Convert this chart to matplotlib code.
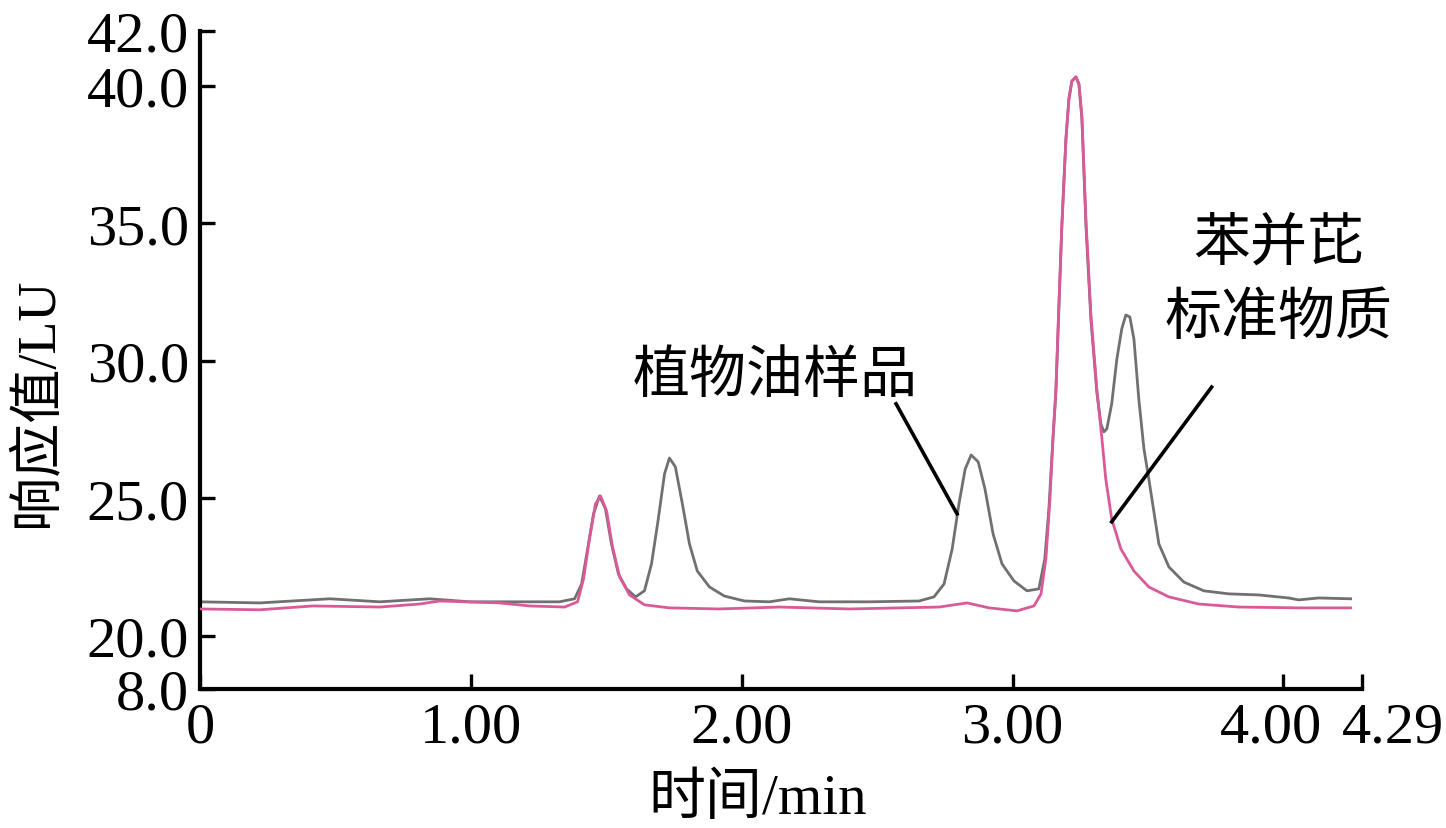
import matplotlib
matplotlib.use("Agg")
import matplotlib.pyplot as plt
from matplotlib.transforms import ScaledTranslation

# 植物油样品 (gray trace)
sample_t = [0.000, 0.221, 0.479, 0.664, 0.848, 0.996, 1.180, 1.327, 1.383, 1.409,
            1.431, 1.453, 1.475, 1.497, 1.519, 1.545, 1.575, 1.608, 1.641, 1.667,
            1.692, 1.715, 1.733, 1.755, 1.781, 1.807, 1.836, 1.881, 1.936, 2.010,
            2.102, 2.176, 2.286, 2.471, 2.655, 2.710, 2.747, 2.777, 2.802, 2.825,
            2.847, 2.873, 2.898, 2.928, 2.961, 3.005, 3.053, 3.097, 3.119, 3.134,
            3.149, 3.160, 3.171, 3.182, 3.197, 3.208, 3.219, 3.234, 3.245, 3.256,
            3.271, 3.289, 3.311, 3.326, 3.337, 3.348, 3.366, 3.385, 3.403, 3.418,
            3.433, 3.448, 3.466, 3.485, 3.503, 3.540, 3.577, 3.632, 3.706, 3.798,
            3.909, 4.019, 4.056, 4.130, 4.248]
sample_v = [21.24, 21.20, 21.35, 21.24, 21.35, 21.24, 21.24, 21.24, 21.35, 21.89,
            23.16, 24.44, 25.09, 24.62, 23.35, 22.25, 21.71, 21.42, 21.64, 22.62,
            24.25, 25.89, 26.47, 26.15, 24.80, 23.35, 22.36, 21.78, 21.45, 21.27,
            21.24, 21.35, 21.24, 21.24, 21.27, 21.42, 21.89, 23.16, 24.80, 26.07,
            26.58, 26.33, 25.35, 23.71, 22.62, 22.00, 21.64, 21.71, 22.80, 24.62,
            27.16, 28.87, 31.89, 34.91, 38.07, 39.53, 40.18, 40.33, 40.07, 38.80,
            34.91, 31.53, 28.87, 27.71, 27.42, 27.53, 28.44, 30.07, 31.16, 31.67,
            31.60, 30.80, 28.62, 26.80, 25.71, 23.35, 22.51, 21.96, 21.64, 21.53,
            21.49, 21.38, 21.31, 21.38, 21.35]

# 苯并芘标准物质 (pink trace)
std_t = [0.000, 0.221, 0.417, 0.664, 0.811, 0.885, 1.106, 1.217, 1.346, 1.394,
         1.416, 1.438, 1.460, 1.479, 1.501, 1.523, 1.549, 1.586, 1.641, 1.733,
         1.917, 2.139, 2.397, 2.729, 2.832, 2.913, 3.016, 3.079, 3.105, 3.123,
         3.138, 3.149, 3.160, 3.171, 3.182, 3.197, 3.208, 3.219, 3.234, 3.245,
         3.256, 3.271, 3.289, 3.311, 3.330, 3.344, 3.366, 3.400, 3.448, 3.503,
         3.577, 3.687, 3.835, 4.056, 4.248]
std_v = [20.98, 20.95, 21.09, 21.05, 21.16, 21.27, 21.20, 21.09, 21.05, 21.24,
         22.07, 23.53, 24.80, 25.09, 24.55, 23.24, 22.15, 21.49, 21.13, 21.02,
         20.98, 21.05, 20.98, 21.05, 21.20, 21.02, 20.91, 21.09, 21.53, 22.80,
         24.98, 27.16, 28.98, 32.07, 34.98, 38.07, 39.53, 40.18, 40.33, 40.07,
         38.87, 35.09, 31.71, 28.98, 27.16, 25.71, 24.25, 23.16, 22.36, 21.78,
         21.42, 21.16, 21.05, 21.02, 21.02]

# leader lines for the two labels
lead_sample = ([2.570, 2.795], [28.44, 24.44])
lead_std = ([3.735, 3.366], [29.05, 24.15])

x_ticks = [0, 1, 2, 3, 4, 4.29]
x_labels = ["0", "1.00", "2.00", "3.00", "4.00", "4.29"]
y_bottom = 18.07   # broken axis: bottom edge is labelled 8.0
y_ticks = [y_bottom, 20, 25, 30, 35, 40, 42]
y_labels = ["8.0", "20.0", "25.0", "30.0", "35.0", "40.0", "42.0"]

fam = ["Liberation Serif", "Noto Sans CJK SC"]
plt.rcParams["font.family"] = fam

fig = plt.figure(figsize=(14.46, 8.29), dpi=100)
ax = fig.add_axes([0.1383, 0.1677, 0.8036, 0.7937])

ax.plot(sample_t, sample_v, color="#707070", linewidth=2.0, zorder=2)
ax.plot(std_t, std_v, color="#d95a96", linewidth=2.0, zorder=3)

ax.plot(*lead_sample, color="black", linewidth=2.6, zorder=4)
ax.plot(*lead_std, color="black", linewidth=2.6, zorder=4)

ax.text(2.124, 29.42, "植物油样品", fontsize=41, ha="center", va="center")
ax.text(3.982, 34.25, "苯并芘", fontsize=41, ha="center", va="center")
ax.text(3.982, 31.53, "标准物质", fontsize=41, ha="center", va="center")

ax.set_xlim(0, 4.29)
ax.set_ylim(y_bottom, 42)
ax.set_xticks(x_ticks)
ax.set_xticklabels(x_labels)
ax.set_yticks(y_ticks)
ax.set_yticklabels(y_labels)

for s in ["top", "right"]:
    ax.spines[s].set_visible(False)
for s in ["left", "bottom"]:
    ax.spines[s].set_linewidth(3)

ax.tick_params(direction="in", length=11, width=2.4, labelsize=42)
ax.tick_params(axis="x", pad=9)
ax.tick_params(axis="y", pad=8)

# the last two x labels sit apart in the original
xl = ax.get_xticklabels()
xl[4].set_transform(xl[4].get_transform() + ScaledTranslation(-0.12, 0, fig.dpi_scale_trans))
xl[5].set_transform(xl[5].get_transform() + ScaledTranslation(0.31, 0, fig.dpi_scale_trans))

ax.set_xlabel("时间/min", fontsize=41)
ax.set_ylabel("响应值/LU", fontsize=39)
ax.xaxis.set_label_coords(0.48, -0.167)
ax.yaxis.set_label_coords(-0.139, 0.438)
ax.xaxis.label.set_va("center")
ax.yaxis.label.set_va("center")

plt.savefig("out.png", dpi=100)
